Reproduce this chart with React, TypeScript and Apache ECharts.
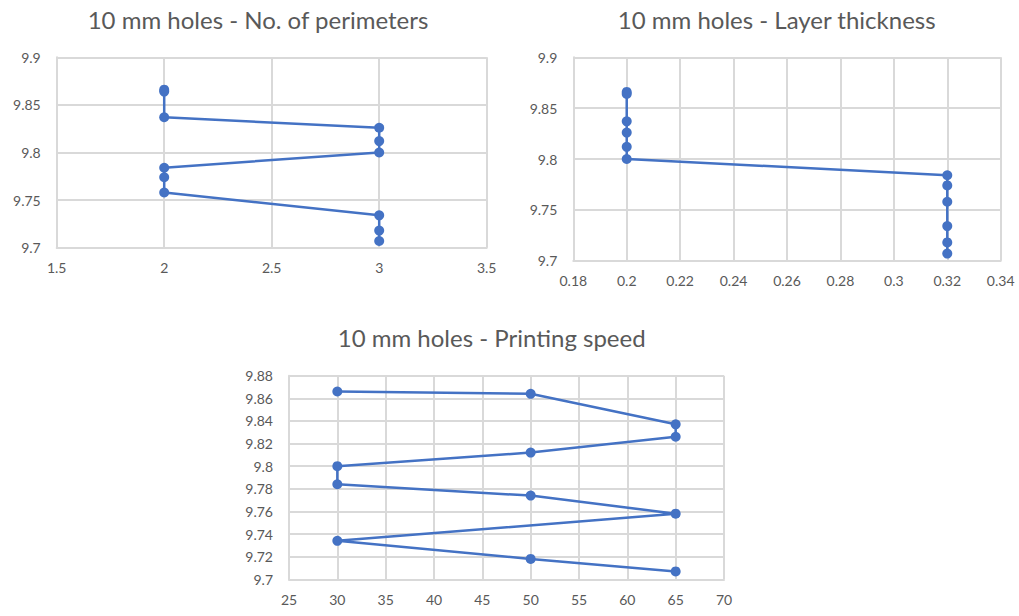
import React, { useEffect, useRef } from "react";
import * as echarts from "echarts";

const diameters = [9.866, 9.864, 9.837, 9.826, 9.812, 9.8, 9.784, 9.774, 9.758, 9.734, 9.718, 9.707];
const perimeters = [2, 2, 2, 3, 3, 3, 2, 2, 2, 3, 3, 3];
const layerThickness = [0.2, 0.2, 0.2, 0.2, 0.2, 0.2, 0.32, 0.32, 0.32, 0.32, 0.32, 0.32];
const printingSpeed = [30, 50, 65, 65, 50, 30, 30, 50, 65, 30, 50, 65];

const titles = [
  "10 mm holes - No. of perimeters",
  "10 mm holes - Layer thickness",
  "10 mm holes - Printing speed",
];

const LINE = "#4472C4";
const GRID = "#d9d9d9";
const TEXT = "#595959";
const FONT = "Lato, 'Open Sans', sans-serif";

function pairs(xs: number[], ys: number[]) {
  return xs.map((x, i) => [x, ys[i]]);
}

const fmt = (v: number) => String(parseFloat(v.toFixed(4)));

export default function App() {
  const ref = useRef<HTMLDivElement>(null);
  useEffect(() => {
    if (!ref.current) return;
    const chart = echarts.init(ref.current, undefined, { renderer: "svg" });
    const axisCommon = (extra: any) => ({
      type: "value",
      axisLine: { show: true, lineStyle: { color: GRID, width: 2 } },
      axisTick: { show: false },
      splitLine: { show: true, lineStyle: { color: GRID, width: 2 } },
      ...extra,
    });
    const lbl = (margin: number) => ({ color: TEXT, fontSize: 14, fontFamily: FONT, formatter: fmt, margin });
    const grids = [
      { left: 56.7, top: 57.3, width: 430, height: 190.4 },
      { left: 573.3, top: 57.3, width: 427.4, height: 203.4 },
      { left: 289, top: 375.7, width: 435, height: 203.6 },
    ];
    const series = [pairs(perimeters, diameters), pairs(layerThickness, diameters), pairs(printingSpeed, diameters)];
    const titlePos = [
      [258, 19],
      [776.7, 19],
      [491.7, 337],
    ];
    chart.setOption({
      animation: false,
      backgroundColor: "#ffffff",
      grid: grids,
      xAxis: [
        axisCommon({ gridIndex: 0, min: 1.5, max: 3.5, interval: 0.5, axisLabel: lbl(13) }),
        axisCommon({ gridIndex: 1, min: 0.18, max: 0.34, interval: 0.02, axisLabel: lbl(13) }),
        axisCommon({ gridIndex: 2, min: 25, max: 70, interval: 5, axisLabel: lbl(13) }),
      ],
      yAxis: [
        axisCommon({ gridIndex: 0, min: 9.7, max: 9.9, interval: 0.05, axisLabel: lbl(16) }),
        axisCommon({ gridIndex: 1, min: 9.7, max: 9.9, interval: 0.05, axisLabel: lbl(16) }),
        axisCommon({ gridIndex: 2, min: 9.7, max: 9.88, interval: 0.02, axisLabel: lbl(16) }),
      ],
      series: series.map((d, i) => ({
        type: "line",
        xAxisIndex: i,
        yAxisIndex: i,
        data: d,
        symbol: "circle",
        symbolSize: 10,
        lineStyle: { color: LINE, width: 2.5 },
        itemStyle: { color: LINE },
      })),
      graphic: titles.map((t, i) => ({
        type: "text",
        x: titlePos[i][0],
        y: titlePos[i][1],
        style: {
          text: t,
          fill: TEXT,
          font: `24px ${FONT}`,
          textAlign: "center",
          textVerticalAlign: "middle",
        },
      })),
    });
    return () => chart.dispose();
  }, []);
  return (
    <div
      ref={ref}
      style={{ position: "fixed", left: 0, top: 0, width: 1019, height: 616 }}
    />
  );
}
